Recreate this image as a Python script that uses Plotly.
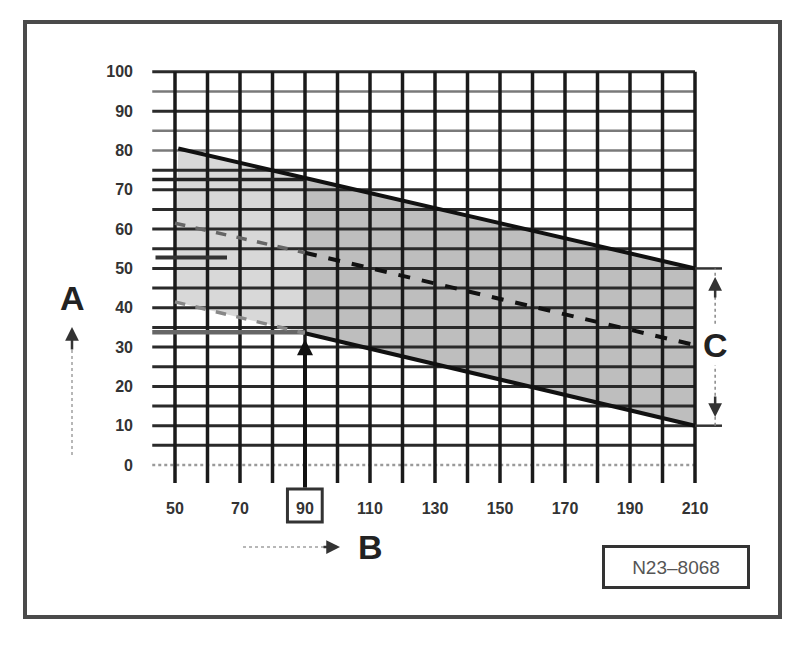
import plotly.graph_objects as go

# axis ticks
X_TICKS = [50, 70, 90, 110, 130, 150, 170, 190, 210]
Y_TICKS = [0, 10, 20, 30, 40, 50, 60, 70, 80, 90, 100]
GRID_X = [50, 60, 70, 80, 90, 100, 110, 120, 130, 140, 150, 160, 170, 180, 190, 200, 210]
GRID_Y = [0, 5, 10, 15, 20, 25, 30, 35, 40, 45, 50, 55, 60, 65, 70, 75, 80, 85, 90, 95, 100]

# band limits
upper_x = [51, 90, 210]
upper_y = [80.5, 73, 50]
middle_x = [50, 90, 210]
middle_y = [61.5, 54, 30.5]
lower_x = [50, 90, 210]
lower_y = [41.5, 33.5, 10]

# horizontal read-off lines at B = 90
read_upper_x = [43, 90]
read_upper_y = [72.6, 72.6]
read_middle_x = [44, 66]
read_middle_y = [52.8, 52.8]
read_lower_x = [43, 90]
read_lower_y = [33.8, 33.8]

MARK_X = 90          # boxed value on B
C_TOP, C_BOT = 50, 10

FONT = "Liberation Sans"
INK = "#1a1a1a"

# plot area in page pixels (811 x 647 window); the page body adds an 8px margin
OFF = 8
PL, PR, PT, PB = 149, 734, 64, 489


def px(x):
    return (x - PL) / (PR - PL)


def py(y):
    return (PB - y) / (PB - PT)


fig = go.Figure()

# shaded band, lighter on the left part
fig.add_trace(go.Scatter(
    x=upper_x[:2] + lower_x[:2][::-1], y=upper_y[:2] + lower_y[:2][::-1],
    fill="toself", fillcolor="#d8d8d8", line=dict(width=0), mode="lines",
    hoverinfo="skip", showlegend=False))
fig.add_trace(go.Scatter(
    x=upper_x[1:] + lower_x[1:][::-1], y=upper_y[1:] + lower_y[1:][::-1],
    fill="toself", fillcolor="#bebebe", line=dict(width=0), mode="lines",
    hoverinfo="skip", showlegend=False))

# grid
for gy in GRID_Y:
    if gy == 0:
        col, w, dash = "#9a9a9a", 2.5, "dot"
    elif gy in (80, 85, 95):
        col, w, dash = "#7a7a7a", 2.5, "solid"
    else:
        col, w, dash = "#2a2a2a", 3, "solid"
    fig.add_trace(go.Scatter(x=[43, GRID_X[-1]], y=[gy, gy], mode="lines",
                             line=dict(color=col, width=w, dash=dash),
                             hoverinfo="skip", showlegend=False))
for gx in GRID_X:
    fig.add_trace(go.Scatter(x=[gx, gx], y=[-4.6, GRID_Y[-1]], mode="lines",
                             line=dict(color=INK, width=3.5),
                             hoverinfo="skip", showlegend=False))

# read-off lines
fig.add_trace(go.Scatter(x=read_upper_x, y=read_upper_y, mode="lines",
                         line=dict(color="#222", width=3.5), showlegend=False))
fig.add_trace(go.Scatter(x=read_middle_x, y=read_middle_y, mode="lines",
                         line=dict(color="#333", width=4), showlegend=False))
fig.add_trace(go.Scatter(x=read_lower_x, y=read_lower_y, mode="lines",
                         line=dict(color="#666", width=4.5), showlegend=False))

# band lines
fig.add_trace(go.Scatter(x=upper_x, y=upper_y, mode="lines",
                         line=dict(color="#111", width=4), showlegend=False))
fig.add_trace(go.Scatter(x=middle_x[:2], y=middle_y[:2], mode="lines",
                         line=dict(color="#666", width=3.5, dash="dash"), showlegend=False))
fig.add_trace(go.Scatter(x=middle_x[1:], y=middle_y[1:], mode="lines",
                         line=dict(color="#111", width=4, dash="dash"), showlegend=False))
fig.add_trace(go.Scatter(x=lower_x[:2], y=lower_y[:2], mode="lines",
                         line=dict(color="#888", width=3.5, dash="dash"), showlegend=False))
fig.add_trace(go.Scatter(x=lower_x[1:], y=lower_y[1:], mode="lines",
                         line=dict(color="#111", width=4), showlegend=False))

# C bracket ticks
for cy in (C_TOP, C_BOT):
    fig.add_trace(go.Scatter(x=[GRID_X[-1], 218.3], y=[cy, cy], mode="lines",
                             line=dict(color="#333", width=2.5),
                             hoverinfo="skip", showlegend=False))

shapes = [
    # outer frame
    dict(type="rect", xref="paper", yref="paper", x0=px(25), x1=px(780), y0=py(617), y1=py(22),
         line=dict(color="#4a4a4a", width=4)),
    # box around the 90 tick
    dict(type="rect", xref="x", yref="paper", x0=84.6, x1=95.3, y0=py(522), y1=py(489),
         line=dict(color="#333", width=3)),
    # dotted arrow shafts
    dict(type="line", xref="paper", yref="paper", x0=px(72), x1=px(72), y0=py(350), y1=py(457),
         line=dict(color="#a0a0a0", width=1.5, dash="dot")),
    dict(type="line", xref="paper", yref="paper", x0=px(243), x1=px(326), y0=py(547), y1=py(547),
         line=dict(color="#a0a0a0", width=1.5, dash="dot")),
    dict(type="line", xref="x", yref="y", x0=216.2, x1=216.2, y0=C_BOT, y1=C_TOP,
         line=dict(color="#888", width=1.5, dash="dot")),
]

LETTER = dict(family=FONT, size=34, color="#222", weight="bold")
annotations = [
    # marker at 90
    dict(x=MARK_X, y=32, xref="x", yref="y", ax=MARK_X, ay=-6.1, axref="x", ayref="y",
         text="", showarrow=True, arrowhead=2, arrowsize=0.8, arrowwidth=4, arrowcolor="#111"),
    # A
    dict(x=px(72), y=py(298), xref="paper", yref="paper", text="A", showarrow=False,
         xanchor="center", yanchor="middle", font=LETTER),
    dict(x=px(72), y=py(327), xref="paper", yref="paper", text="", showarrow=True,
         ax=0, ay=24, arrowhead=2, arrowsize=1.1, arrowwidth=2.5, arrowcolor="#333"),
    # B
    dict(x=px(370), y=py(547), xref="paper", yref="paper", text="B", showarrow=False,
         xanchor="center", yanchor="middle", font=LETTER),
    dict(x=px(340), y=py(547), xref="paper", yref="paper", text="", showarrow=True,
         ax=-18, ay=0, arrowhead=2, arrowsize=1.1, arrowwidth=2.5, arrowcolor="#333"),
    # C
    dict(x=216.2, y=C_TOP - 2.2, xref="x", yref="y", text="", showarrow=True,
         ax=0, ay=22, arrowhead=2, arrowsize=1.1, arrowwidth=2.5, arrowcolor="#333"),
    dict(x=216.2, y=C_BOT + 2.2, xref="x", yref="y", text="", showarrow=True,
         ax=0, ay=-22, arrowhead=2, arrowsize=1.1, arrowwidth=2.5, arrowcolor="#333"),
    dict(x=216.2, y=30.5, xref="x", yref="y", text="C", showarrow=False, bgcolor="white",
         xanchor="center", yanchor="middle", font=LETTER),
    # drawing number
    dict(x=px(676), y=py(567), xref="paper", yref="paper", text="N23\u20138068", showarrow=False,
         xanchor="center", yanchor="middle",
         font=dict(family=FONT, size=19, color="#555"), width=140, height=36,
         bordercolor="#333", borderwidth=3, borderpad=1, bgcolor="white"),
]

TICKFONT = dict(family=FONT, size=16, color="#333", weight="bold")
fig.update_layout(
    width=811, height=647,
    margin=dict(l=PL - OFF, r=811 - PR + OFF, t=PT - OFF, b=647 - PB + OFF),
    paper_bgcolor="white", plot_bgcolor="white",
    shapes=shapes, annotations=annotations,
    font=dict(family=FONT, color="#444"),
)
fig.update_xaxes(range=[42, 222], tickvals=X_TICKS, ticktext=[str(v) for v in X_TICKS],
                 showgrid=False, zeroline=False, showline=False, ticks="",
                 tickfont=TICKFONT, ticklabelstandoff=8, fixedrange=True)
fig.update_yaxes(range=[-6.1, 102], tickvals=Y_TICKS, ticktext=[str(v) for v in Y_TICKS],
                 showgrid=False, zeroline=False, showline=False, ticks="",
                 tickfont=TICKFONT, ticklabelstandoff=15, fixedrange=True)

fig.write_html("out.html")
